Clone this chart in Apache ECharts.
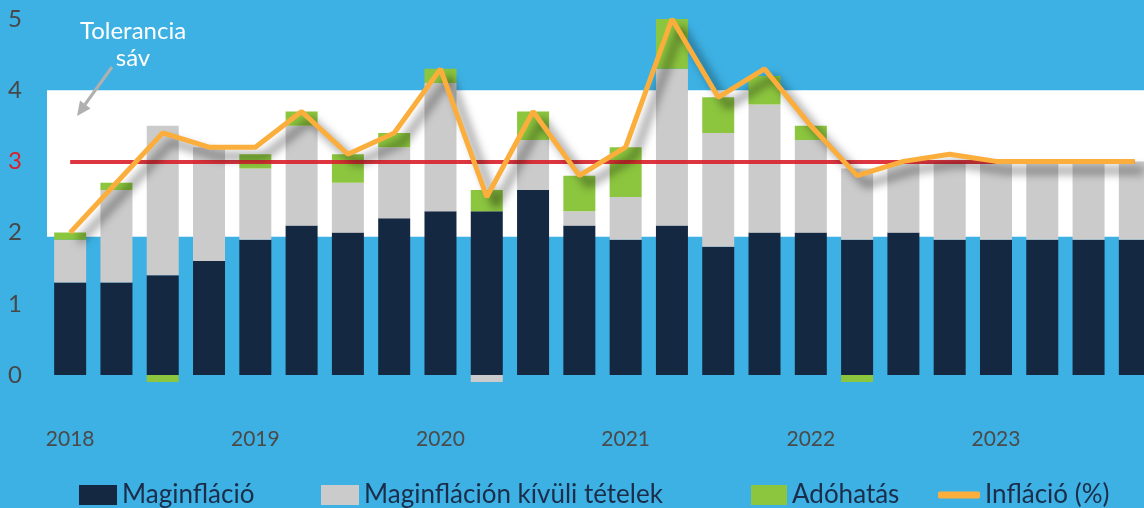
<!DOCTYPE html>
<html>
<head>
<meta charset="utf-8">
<script src="https://cdn.jsdelivr.net/npm/echarts@6/dist/echarts.min.js"></script>
<style>
  html, body { margin: 0; padding: 0; background: #3db1e3; }
  #chart { width: 1144px; height: 508px; }
</style>
</head>
<body>
<div id="chart"></div>
<script>
// quarters 2018 Q1 .. 2023 Q4
var quarters = [
  '2018 I', '2018 II', '2018 III', '2018 IV',
  '2019 I', '2019 II', '2019 III', '2019 IV',
  '2020 I', '2020 II', '2020 III', '2020 IV',
  '2021 I', '2021 II', '2021 III', '2021 IV',
  '2022 I', '2022 II', '2022 III', '2022 IV',
  '2023 I', '2023 II', '2023 III', '2023 IV'
];
var core = [1.3, 1.3, 1.4, 1.6, 1.9, 2.1, 2.0, 2.2, 2.3, 2.3, 2.6, 2.1,
            1.9, 2.1, 1.8, 2.0, 2.0, 1.9, 2.0, 1.9, 1.9, 1.9, 1.9, 1.9];
var nonCore = [0.6, 1.3, 2.1, 1.6, 1.0, 1.4, 0.7, 1.0, 1.8, -0.1, 0.7, 0.2,
               0.6, 2.2, 1.6, 1.8, 1.3, 1.0, 1.0, 1.1, 1.1, 1.1, 1.1, 1.1];
var tax = [0.1, 0.1, -0.1, 0, 0.2, 0.2, 0.4, 0.2, 0.2, 0.3, 0.4, 0.5,
           0.7, 0.7, 0.5, 0.4, 0.2, -0.1, 0, 0, 0, 0, 0, 0];
var inflation = [2.0, 2.7, 3.4, 3.2, 3.2, 3.7, 3.1, 3.4, 4.3, 2.5, 3.7, 2.8,
                 3.2, 5.0, 3.9, 4.3, 3.5, 2.8, 3.0, 3.1, 3.0, 3.0, 3.0, 3.0];
var yTicks = [0, 1, 2, 3, 4, 5];
var target = 3;
var band = [1.94, 4];

var font = 'Lato, "Open Sans", sans-serif';
var navy = '#142842';

var myChart = echarts.init(document.getElementById('chart'));

function legendAt(left, name, w, h, icon) {
  return {
    left: left,
    top: 482,
    padding: 0,
    itemWidth: w,
    itemHeight: h,
    itemGap: 0,
    icon: icon,
    data: [name],
    textStyle: { color: '#1b2d4a', fontSize: 26, lineHeight: 26, fontFamily: font }
  };
}

myChart.setOption({
  backgroundColor: '#3db1e3',
  animation: false,
  // grid runs a bit past the right edge, the last bar is cut like in the source
  grid: { left: 47, right: -14, top: 19, bottom: 133, outerBoundsMode: 'none' },
  legend: [
    legendAt(79, 'Maginfláció', 38, 20, 'rect'),
    legendAt(321, 'Maginfláción kívüli tételek', 38, 20, 'rect'),
    legendAt(751, 'Adóhatás', 36, 20, 'rect'),
    legendAt(938, 'Infláció (%)', 42, 7, 'roundRect')
  ],
  xAxis: {
    type: 'category',
    data: quarters,
    axisLine: { show: false },
    axisTick: { show: false },
    axisLabel: {
      interval: 3,
      margin: 54,
      color: '#4a4a4a',
      fontSize: 21,
      fontFamily: font,
      formatter: function (v) { return v.split(' ')[0]; }
    }
  },
  yAxis: {
    type: 'value',
    min: yTicks[0],
    max: yTicks[yTicks.length - 1],
    interval: 1,
    splitLine: { show: false },
    axisLine: { show: false },
    axisTick: { show: false },
    axisLabel: {
      margin: 25,
      fontSize: 24,
      fontFamily: font,
      color: function (v) { return v == target ? '#d9202b' : '#474747'; }
    }
  },
  graphic: [
    {
      type: 'text',
      left: 78,
      top: 18,
      z: 100,
      style: {
        text: 'Tolerancia\nsáv',
        fill: '#ffffff',
        font: '24px ' + font,
        lineHeight: 27,
        textAlign: 'center',
        width: 110
      }
    },
    {
      type: 'line',
      z: 100,
      shape: { x1: 112, y1: 67, x2: 85, y2: 104.5 },
      style: { stroke: '#b0b0b0', lineWidth: 3 }
    },
    {
      type: 'polygon',
      z: 100,
      shape: { points: [[77, 116], [90.5, 108.5], [80, 100.5]] },
      style: { fill: '#b0b0b0' }
    }
  ],
  series: [
    {
      name: 'Maginfláció',
      type: 'bar',
      stack: 'infl',
      barWidth: 32,
      clip: false,
      itemStyle: { color: navy },
      data: core,
      markArea: {
        silent: true,
        itemStyle: { color: '#ffffff' },
        data: [[{ yAxis: band[0] }, { yAxis: band[1] }]]
      },
      markLine: {
        silent: true,
        symbol: 'none',
        z: 5,
        label: { show: false },
        lineStyle: { color: '#d9202b', width: 4, type: 'solid', opacity: 0.9 },
        data: [[{ coord: [quarters[0], target] }, { coord: [quarters[quarters.length - 1], target] }]]
      }
    },
    {
      name: 'Maginfláción kívüli tételek',
      type: 'bar',
      stack: 'infl',
      barWidth: 32,
      clip: false,
      itemStyle: { color: '#cbcbcb' },
      data: nonCore
    },
    {
      name: 'Adóhatás',
      type: 'bar',
      stack: 'infl',
      barWidth: 32,
      clip: false,
      itemStyle: { color: '#8cc63f' },
      data: tax
    },
    {
      name: 'Infláció (%)',
      type: 'line',
      z: 10,
      clip: false,
      symbol: 'none',
      itemStyle: { color: '#fbae3c' },
      lineStyle: {
        color: '#fbae3c',
        width: 5,
        shadowColor: 'rgba(0, 0, 0, 0.55)',
        shadowBlur: 10,
        shadowOffsetX: 9,
        shadowOffsetY: 9
      },
      data: inflation
    }
  ]
});
</script>
</body>
</html>
